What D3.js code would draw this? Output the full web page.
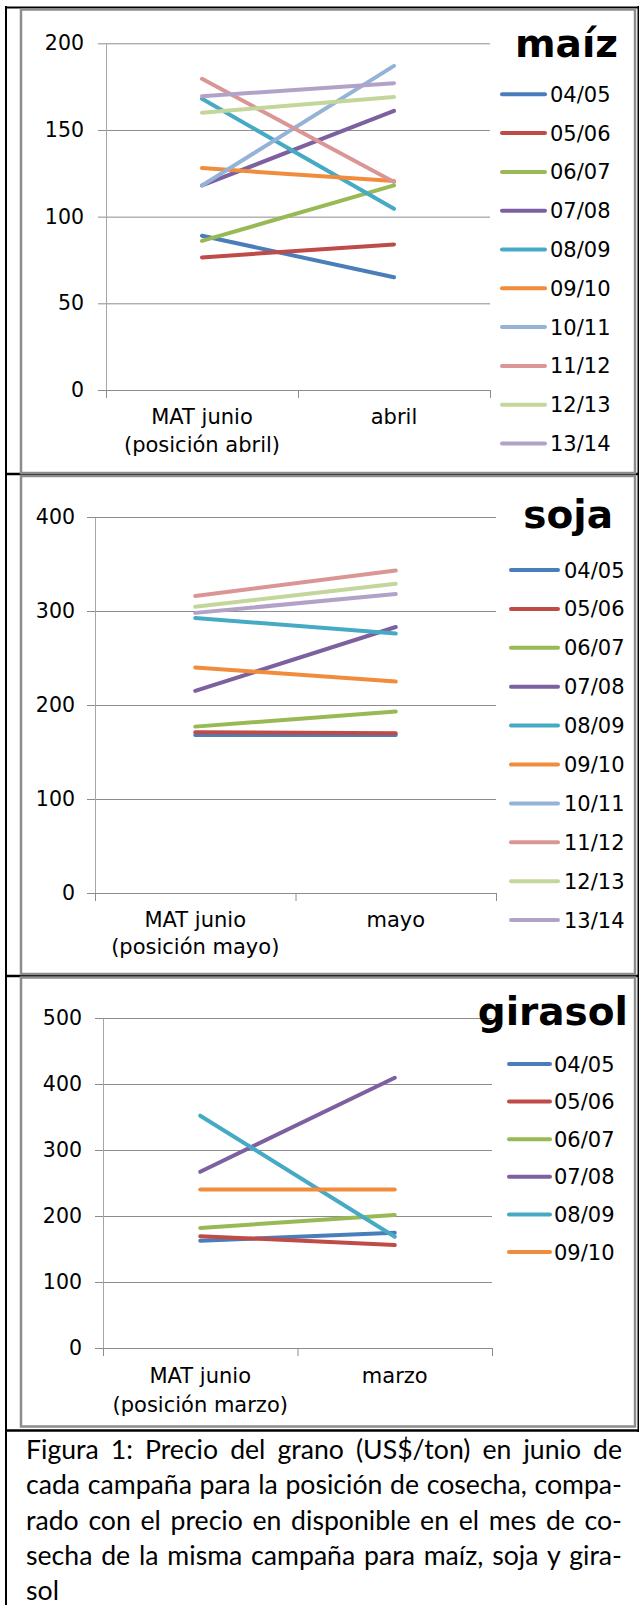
<!DOCTYPE html>
<html>
<head>
<meta charset="utf-8">
<script src="https://cdn.jsdelivr.net/npm/d3@7"></script>
<style>
  body { margin: 0; background: #fff; }
  svg { display: block; }
</style>
</head>
<body>
<script>
// campaigns and colours (Excel 2007 default line palette)
var campaigns = ["04/05", "05/06", "06/07", "07/08", "08/09", "09/10", "10/11", "11/12", "12/13", "13/14"];
var seriesColors = ["#4a7ebb", "#be4b48", "#98b954", "#7d60a0", "#46aac5", "#f08c3c", "#95b3d7", "#d99694", "#c3d69b", "#b3a2c7"];

// maiz
var maizCategories = [["MAT junio", "(posición abril)"], ["abril"]];
var maizTicks = [0, 50, 100, 150, 200];
var maizValues = [
  [89, 65], [76.5, 84], [86, 118], [118, 161], [168, 104.5],
  [128, 120.5], [118, 187], [179.5, 120], [160, 169], [169.5, 177]
];

// soja (10/11 has no points)
var sojaCategories = [["MAT junio", "(posición mayo)"], ["mayo"]];
var sojaTicks = [0, 100, 200, 300, 400];
var sojaValues = [
  [168, 168], [171, 170], [177, 193], [215, 283], [292.5, 276],
  [240, 225], [null, null], [316, 343], [304.5, 329], [298, 318]
];

// girasol
var girasolCampaigns = campaigns.slice(0, 6);
var girasolCategories = [["MAT junio", "(posición marzo)"], ["marzo"]];
var girasolTicks = [0, 100, 200, 300, 400, 500];
var girasolValues = [
  [162.5, 174.5], [169.5, 156], [182, 201.5], [267, 409.5], [352, 168.5], [240, 240]
];

var captionLines = [
  "Figura 1: Precio del grano (US$/ton) en junio de",
  "cada campaña para la posición de cosecha, compa-",
  "rado con el precio en disponible en el mes de co-",
  "secha de la misma campaña para maíz, soja y gira-",
  "sol"
];

var width = 639, height = 1605;

var svg = d3.select("body").append("svg")
  .attr("width", width)
  .attr("height", height);

// table frame (black)
var frame = svg.append("g").attr("stroke", "#000").attr("fill", "none");
frame.append("line").attr("x1", 6).attr("x2", 6).attr("y1", 6).attr("y2", height).attr("stroke-width", 2);
frame.append("line").attr("x1", 5).attr("x2", 639).attr("y1", 7.5).attr("y2", 7.5).attr("stroke-width", 2);
frame.append("line").attr("x1", 638.5).attr("x2", 638.5).attr("y1", 6).attr("y2", 1432).attr("stroke-width", 2);
[474, 976, 1430.5].forEach(function (yy) {
  frame.append("line").attr("x1", 5).attr("x2", 639).attr("y1", yy).attr("y2", yy).attr("stroke-width", 2.5);
});

function panel(cfg) {
  var g = svg.append("g");

  // chart box (grey)
  g.append("rect")
    .attr("x", cfg.box[0]).attr("y", cfg.box[1])
    .attr("width", cfg.box[2] - cfg.box[0]).attr("height", cfg.box[3] - cfg.box[1])
    .attr("fill", "#fff").attr("stroke", "#8c8c8c").attr("stroke-width", 2.5);

  var y = d3.scaleLinear()
    .domain([0, d3.max(cfg.ticks)])
    .range([cfg.bottom, cfg.top]);

  var x = d3.scalePoint()
    .domain(d3.range(cfg.categories.length))
    .range([cfg.left, cfg.right])
    .padding(0.5);

  var xEdges = d3.scaleLinear().domain([0, cfg.categories.length]).range([cfg.left, cfg.right]);

  // gridlines
  g.append("g")
    .attr("transform", "translate(" + cfg.left + ",0)")
    .call(d3.axisLeft(y).tickValues(cfg.ticks).tickSize(-(cfg.right - cfg.left)).tickFormat(""))
    .call(function (a) {
      a.select(".domain").remove();
      a.selectAll("line").attr("stroke", "#8c8c8c");
    });

  // y axis with outward ticks and labels
  g.append("g")
    .attr("transform", "translate(" + cfg.left + ",0)")
    .call(d3.axisLeft(y).tickValues(cfg.ticks).tickSize(8).tickSizeOuter(0).tickPadding(cfg.tickPad))
    .call(function (a) {
      a.select(".domain").attr("stroke", "#a6a6a6");
      a.selectAll("line").attr("stroke", "#8c8c8c");
      a.selectAll("text")
        .attr("fill", "#000")
        .style("font-family", "'DejaVu Sans', Verdana, sans-serif")
        .style("font-size", "20.5px");
    });

  // x axis: ticks at category edges
  g.append("g")
    .attr("transform", "translate(0," + cfg.bottom + ")")
    .call(d3.axisBottom(xEdges).tickValues(d3.range(cfg.categories.length + 1)).tickSize(8).tickSizeOuter(0).tickFormat(""))
    .call(function (a) {
      a.select(".domain").attr("stroke", "#8c8c8c");
      a.selectAll("line").attr("stroke", "#8c8c8c");
    });

  // category labels
  cfg.categories.forEach(function (lines, i) {
    var t = g.append("text")
      .attr("text-anchor", "middle")
      .style("font-family", "'DejaVu Sans', Verdana, sans-serif")
      .style("font-size", "21px")
      .attr("fill", "#000");
    lines.forEach(function (s, j) {
      t.append("tspan")
        .attr("x", x(i))
        .attr("y", cfg.catY[j])
        .attr("dy", "0.35em")
        .text(s);
    });
  });

  // series lines
  var line = d3.line()
    .defined(function (d) { return d != null; })
    .x(function (d, i) { return x(i); })
    .y(function (d) { return y(d); });

  g.selectAll(".series")
    .data(cfg.values)
    .enter()
    .append("path")
    .attr("class", "series")
    .attr("d", line)
    .attr("fill", "none")
    .attr("stroke", function (d, i) { return seriesColors[i]; })
    .attr("stroke-width", 4)
    .attr("stroke-linecap", "round");

  // title
  g.append("text")
    .attr("x", cfg.titleX)
    .attr("y", cfg.titleY)
    .attr("text-anchor", "end")
    .style("font-family", "'DejaVu Sans', Verdana, sans-serif")
    .style("font-weight", "bold")
    .style("font-size", "39px")
    .attr("fill", "#000")
    .text(cfg.title);

  // legend
  var legend = g.selectAll(".legend")
    .data(cfg.names)
    .enter()
    .append("g")
    .attr("class", "legend")
    .attr("transform", function (d, i) { return "translate(0," + (cfg.legY + i * cfg.legStep) + ")"; });

  legend.append("line")
    .attr("x1", cfg.legX[0]).attr("x2", cfg.legX[1])
    .attr("stroke", function (d, i) { return seriesColors[i]; })
    .attr("stroke-width", 4)
    .attr("stroke-linecap", "round");

  legend.append("text")
    .attr("x", cfg.legX[2])
    .attr("dy", "0.36em")
    .style("font-family", "'DejaVu Sans', Verdana, sans-serif")
    .style("font-size", "21px")
    .attr("fill", "#000")
    .text(function (d) { return d; });
}

panel({
  box: [21, 9.5, 635, 473], left: 106, right: 490, top: 43.3, bottom: 390, tickPad: 14,
  ticks: maizTicks, categories: maizCategories, values: maizValues, names: campaigns,
  catY: [417, 445], title: "maíz", titleX: 618, titleY: 57,
  legX: [502, 545, 550], legY: 94.3, legStep: 38.8
});

panel({
  box: [21, 476, 635, 974], left: 95, right: 496, top: 517, bottom: 893, tickPad: 12,
  ticks: sojaTicks, categories: sojaCategories, values: sojaValues, names: campaigns,
  catY: [920, 947], title: "soja", titleX: 613, titleY: 528,
  legX: [511, 558, 564], legY: 570, legStep: 38.9
});

panel({
  box: [21, 977.5, 635, 1426.5], left: 103, right: 492, top: 1018, bottom: 1348, tickPad: 13,
  ticks: girasolTicks, categories: girasolCategories, values: girasolValues, names: girasolCampaigns,
  catY: [1376, 1405], title: "girasol", titleX: 628, titleY: 1025,
  legX: [509, 550, 554], legY: 1064, legStep: 37.6
});

// caption, justified; size chosen so the second line nearly fills the width
var capLeft = 26, capRight = 622, capTop = 1459, capStep = 35.3;

var caption = svg.append("g")
  .style("font-family", "Lato, 'Open Sans', sans-serif")
  .style("font-size", "23px")
  .attr("fill", "#000");

var probe = caption.append("text").text(captionLines[1]);
var fs = 23 * (capRight - capLeft - 6) / probe.node().getComputedTextLength();
probe.remove();
caption.style("font-size", fs + "px");

captionLines.forEach(function (s, i) {
  var words = s.split(" ");
  var t = caption.append("text").attr("y", capTop + i * capStep);
  var spans = words.map(function (w) { return t.append("tspan").text(w); });
  var widths = spans.map(function (sp) { return sp.node().getComputedTextLength(); });
  var total = d3.sum(widths);
  var last = i === captionLines.length - 1;
  var gap = (words.length > 1 && !last) ? (capRight - capLeft - total) / (words.length - 1) : 6;
  var xx = capLeft;
  spans.forEach(function (sp, k) {
    sp.attr("x", xx);
    xx += widths[k] + gap;
  });
});
</script>
</body>
</html>
